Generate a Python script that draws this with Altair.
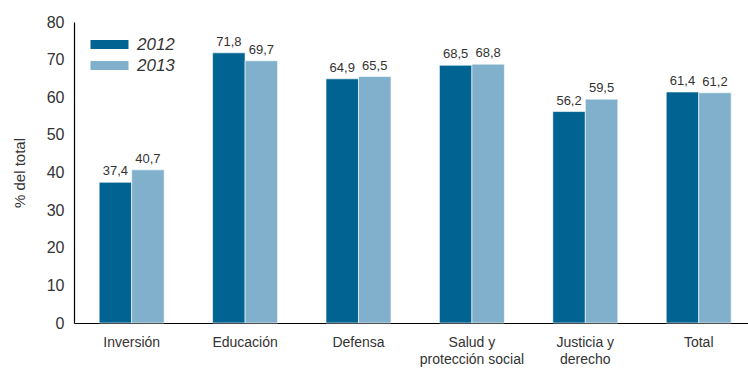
import altair as alt
import pandas as pd

categories = ["Inversión", "Educación", "Defensa", "Salud y|protección social", "Justicia y|derecho", "Total"]
v2012 = [37.4, 71.8, 64.9, 68.5, 56.2, 61.4]
v2013 = [40.7, 69.7, 65.5, 68.8, 59.5, 61.2]
years = ["2012", "2013"]
colors = ["#006391", "#80b0cb"]

rows = []
for c, a, b in zip(categories, v2012, v2013):
    rows.append({"cat": c, "year": "2012", "val": a})
    rows.append({"cat": c, "year": "2013", "val": b})
df = pd.DataFrame(rows)
df["lab"] = df["val"].map(lambda v: f"{v:.1f}".replace(".", ","))

FONT = "Liberation Sans"

x = alt.X("cat:N", sort=categories, title=None,
          scale=alt.Scale(paddingInner=0.427, paddingOuter=0.185, align=0.6),
          axis=alt.Axis(labelAngle=0, labelExpr="split(datum.value, '|')",
                        ticks=False, domainColor="#000", domainWidth=1.2,
                        labelFontSize=14, labelColor="#333", labelPadding=12,
                        labelFont=FONT, labelLineHeight=17))
xo = alt.XOffset("year:N", sort=years, scale=alt.Scale(paddingInner=0))
y = alt.Y("val:Q", title="% del total",
          scale=alt.Scale(domain=[0, 80]),
          axis=alt.Axis(values=list(range(0, 81, 10)), grid=False, ticks=False,
                        domainColor="#000", domainWidth=1.2,
                        labelFontSize=16, labelColor="#333", labelPadding=10,
                        labelFont=FONT, titleFont=FONT, titleFontSize=15,
                        titleFontWeight="normal", titleColor="#333", titlePadding=19))

base = alt.Chart(df)
bars = base.mark_bar(stroke="white", strokeWidth=0.6).encode(
    x=x, xOffset=xo, y=y,
    color=alt.Color("year:N", sort=years,
                    scale=alt.Scale(domain=years, range=colors),
                    legend=alt.Legend(title=None, orient="none", legendX=26, legendY=13,
                                      symbolType="M-2,-0.48H2V0.48H-2Z", symbolSize=361,
                                      symbolStrokeWidth=0, labelFontSize=17,
                                      labelFontStyle="italic", labelColor="#333",
                                      labelFont=FONT, rowPadding=3, labelOffset=18))
)
text = base.mark_text(baseline="bottom", dy=-4, fontSize=13, color="#333", font=FONT).encode(
    x=x, xOffset=xo, y=y, text="lab:N"
)

chart = (bars + text).properties(
    width=674, height=301,
    autosize=alt.AutoSizeParams(type="none"),
    padding={"left": 74, "top": 22, "right": 0, "bottom": 46},
).configure_view(stroke=None)

chart.save("out.html", embed_options={"renderer": "svg", "actions": False})
